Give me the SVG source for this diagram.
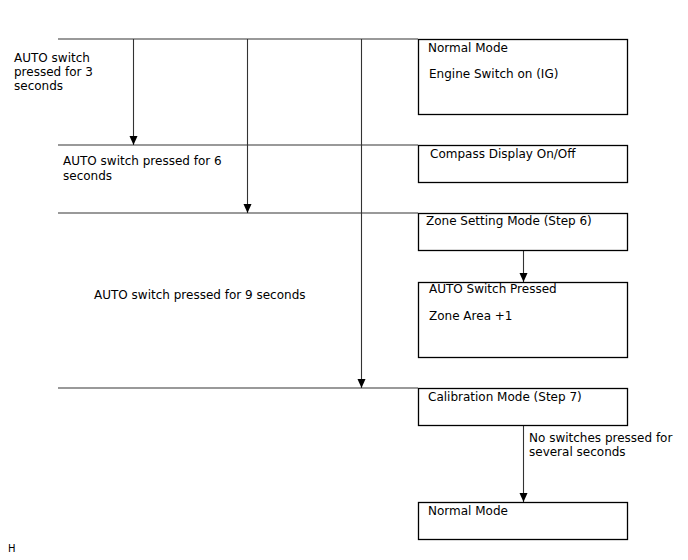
<svg xmlns="http://www.w3.org/2000/svg" width="688" height="560" viewBox="0 0 688 560">
<style>
text{font-family:"DejaVu Sans","Liberation Sans",sans-serif;font-size:12px;fill:#000}
.box{fill:#fff;stroke:#000;stroke-width:1.3}
.hl{stroke:#777;stroke-width:1.3;fill:none}
.ar{stroke:#333;stroke-width:1.1;fill:none;marker-end:url(#ah)}
</style>
<defs>
<marker id="ah" markerWidth="10" markerHeight="10" refX="9" refY="4" orient="auto" markerUnits="userSpaceOnUse">
<path d="M0,0 L9,4 L0,8 Z" fill="#000"/>
</marker>
</defs>
<rect width="688" height="560" fill="#fff"/>
<g id="connectors">
<line class="hl" x1="58" y1="39" x2="418" y2="39"/>
<line class="hl" x1="58" y1="145" x2="418" y2="145"/>
<line class="hl" x1="58" y1="213" x2="418" y2="213"/>
<line class="hl" x1="58" y1="388" x2="418" y2="388"/>
<line class="ar" x1="133.5" y1="39" x2="133.5" y2="145"/>
<line class="ar" x1="247.5" y1="39" x2="247.5" y2="213"/>
<line class="ar" x1="361.5" y1="39" x2="361.5" y2="388"/>
<line class="ar" x1="523.5" y1="250" x2="523.5" y2="282"/>
<line class="ar" x1="523.5" y1="425" x2="523.5" y2="502"/>
</g>
<g id="labels">
<text x="14" y="62">AUTO switch</text>
<text x="14" y="76">pressed for 3</text>
<text x="14" y="90">seconds</text>
<text x="63" y="165">AUTO switch pressed for 6</text>
<text x="63" y="180">seconds</text>
<text x="94" y="299">AUTO switch pressed for 9 seconds</text>
<text x="529" y="442">No switches pressed for</text>
<text x="529" y="456">several seconds</text>
<text x="8" y="552" style="font-size:10px">H</text>
</g>
<g id="normal1">
<rect class="box" x="418.5" y="39.5" width="209" height="75"/>
<text x="428" y="52">Normal Mode</text>
<text x="429" y="78">Engine Switch on (IG)</text>
</g>
<g id="compass">
<rect class="box" x="418.5" y="145.5" width="209" height="37"/>
<text x="430" y="158">Compass Display On/Off</text>
</g>
<g id="zone">
<rect class="box" x="418.5" y="213.5" width="209" height="37"/>
<text x="426" y="225">Zone Setting Mode (Step 6)</text>
</g>
<g id="autopressed">
<rect class="box" x="418.5" y="282.5" width="209" height="75"/>
<text x="429" y="293">AUTO Switch Pressed</text>
<text x="429" y="320">Zone Area +1</text>
</g>
<g id="calibration">
<rect class="box" x="418.5" y="388.5" width="209" height="37"/>
<text x="428" y="401">Calibration Mode (Step 7)</text>
</g>
<g id="normal2">
<rect class="box" x="418.5" y="502.5" width="209" height="37"/>
<text x="428" y="515">Normal Mode</text>
</g>
</svg>
